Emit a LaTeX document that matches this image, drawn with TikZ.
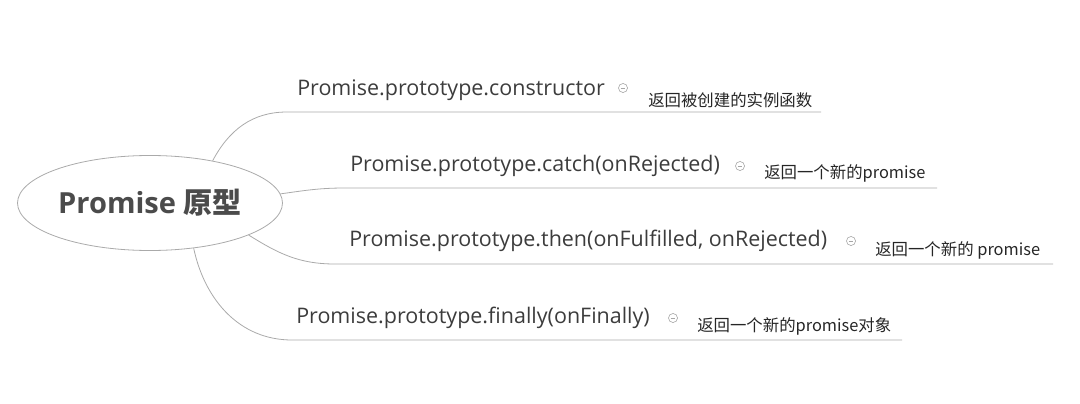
\documentclass[tikz,border=0pt]{standalone}
\usepackage{fontspec}
\usetikzlibrary{shapes.geometric}
\setmainfont{Open Sans}
\newfontfamily\cjk{Noto Sans CJK SC}
\begin{document}
\begin{tikzpicture}[x=0.75pt,y=-0.75pt,
	branch/.style={draw=linegray, line width=0.6pt},
	zweig/.style={anchor=west, inner sep=0pt, text=txtgray, font=\fontsize{16.1}{18}\selectfont},
	notiz/.style={anchor=west, inner sep=0pt, text=black!85, font=\cjk\fontsize{12.3}{14}\selectfont},
	icon/.style={circle, draw=gray!70, line width=0.45pt, minimum size=6.8pt, inner sep=0pt}]
	\definecolor{linegray}{RGB}{170,170,170}
	\definecolor{txtgray}{RGB}{60,60,60}
	\definecolor{titlegray}{RGB}{75,75,75}
	\useasboundingbox (0,0) rectangle (1080,403);

%Mitte
	\node[ellipse, draw=linegray, line width=0.6pt, minimum width=198.75pt, minimum height=71.25pt, inner sep=0pt,
		text=titlegray, font=\bfseries\fontsize{21.8}{24}\selectfont] (root) at (150,203) {Promise {\cjk 原型}};

%Zweige
	\coordinate (u1s) at (287,112);
	\coordinate (u1e) at (821,112);
	\coordinate (u2s) at (345,188);
	\coordinate (u2e) at (937,188);
	\coordinate (u3s) at (335,264);
	\coordinate (u3e) at (1053,264);
	\coordinate (u4s) at (292,340);
	\coordinate (u4e) at (902,340);

	\draw[branch] (root.34) to[out=62,in=180] (u1s) -- (u1e);
	\draw[branch] (root.4) to[out=8,in=180] (u2s) -- (u2e);
	\draw[branch] (root.-18) to[out=-32,in=180] (u3s) -- (u3e);
	\draw[branch] (root.-46) to[out=-78,in=180] (u4s) -- (u4e);

%Texte
	\node[zweig] (b1) at (297,90) {Promise.prototype.constructor};
	\node[zweig] (b2) at (350,166) {Promise.prototype.catch(onRejected)};
	\node[zweig] (b3) at (349,241) {Promise.prototype.then(onFulfilled, onRejected)};
	\node[zweig] (b4) at (296,318) {Promise.prototype.finally(onFinally)};

	\node[notiz] (n1) at (648,100) {返回被创建的实例函数};
	\node[notiz] (n2) at (764,173) {返回一个新的promise};
	\node[notiz] (n3) at (875,250) {返回一个新的 promise};
	\node[notiz] (n4) at (697,326) {返回一个新的promise对象};

%Icons
	\foreach \i/\x/\y in {1/623/88, 2/740/166, 3/851/241, 4/673/318}{
		\node[icon] (c\i) at (\x,\y) {};
		\draw[gray!70, line width=0.45pt] ([xshift=-1.7pt]c\i.center) -- ([xshift=1.7pt]c\i.center);
	}
\end{tikzpicture}
\end{document}
